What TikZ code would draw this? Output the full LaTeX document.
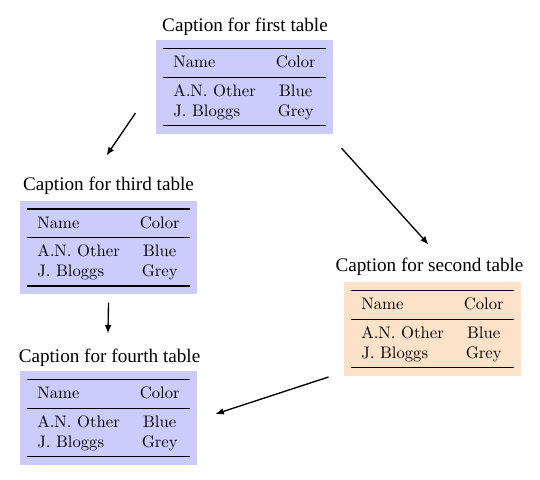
\documentclass[tikz,border=0pt]{standalone}
\usepackage{fontspec}
\usepackage{booktabs}
\newfontfamily\capfont{Liberation Serif}
\usetikzlibrary{arrows.meta,calc}
\definecolor{tblblue}{RGB}{204,204,252}
\definecolor{tblpeach}{RGB}{252,226,200}
\newcommand{\mytab}{\begin{tabular}{lc}\toprule Name & Color\\\midrule A.N. Other & Blue\\ J. Bloggs & Grey\\\bottomrule\end{tabular}}
\tikzset{
  tbl/.style={inner xsep=4.5pt, inner ysep=4.5pt, font=\fontsize{10}{12}\selectfont},
  bluetbl/.style={tbl, fill=tblblue},
  peachtbl/.style={tbl, fill=tblpeach},
  capt/.style={anchor=base, inner sep=1pt, font=\capfont\fontsize{11.5}{13}\selectfont},
  arr/.style={-{Latex[length=5pt,width=4pt]}, line width=0.8pt}
}
\begin{document}
\begin{tikzpicture}[x=0.6pt,y=-0.6pt]
\useasboundingbox (0,0) rectangle (540,479);
\node[bluetbl, minimum width=105pt, minimum height=54pt] (t1) at (244.5,87) {\mytab};
\node[bluetbl, minimum width=104pt, minimum height=53.5pt] (t3) at (108.5,247.5) {\mytab};
\node[peachtbl, minimum width=103pt, minimum height=54pt] (t2) at (432.5,329) {\mytab};
\node[bluetbl, minimum width=104pt, minimum height=53.5pt] (t4) at (108.5,418) {\mytab};
\node[capt] (c1) at (245,31) {Caption for first table};
\node[capt] (c3) at (108.5,190) {Caption for third table};
\node[capt] (c2) at (429.5,271) {Caption for second table};
\node[capt] (c4) at (109.5,362) {Caption for fourth table};
\draw[arr] ($(t1.west)+(-20,26)$) -- ($(c3.north)+(-2,-19)$);
\draw[arr] ($(t1.south east)+(8,14)$) -- ($(c2.north)+(-1,-11)$);
\draw[arr] ($(t3.south)+(0,8)$) -- ($(c4.north)+(-1.5,-13)$);
\draw[arr] ($(t2.west)+(-15,48)$) -- ($(t4.east)+(18,-4)$);
\end{tikzpicture}
\end{document}
